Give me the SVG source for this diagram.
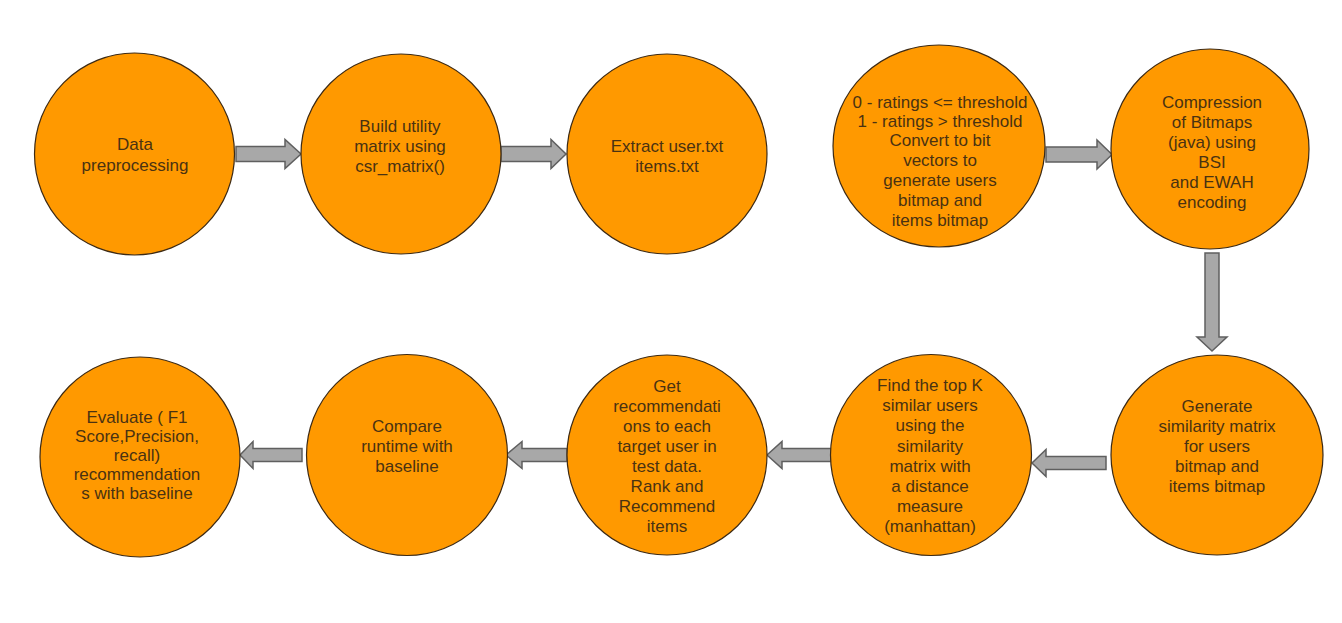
<svg xmlns="http://www.w3.org/2000/svg" width="1342" height="623" viewBox="0 0 1342 623">
<style>
.n{fill:#FF9900;stroke:#3d2a14;stroke-width:1.2}
.t{font-family:"Liberation Sans",Arial,sans-serif;font-size:17px;fill:#4a3212;text-anchor:middle}
.a{fill:#A8A8A8;stroke:#5f5f5f;stroke-width:1.5;stroke-linejoin:miter}
</style>
<rect width="1342" height="623" fill="#ffffff"/>
<g id="connectors">
<polygon class="a" points="236,146.5 285,146.5 285,139.5 301,154 285,168.5 285,161.5 236,161.5"/>
<polygon class="a" points="501,146.5 551,146.5 551,139.5 566,154 551,168.5 551,161.5 501,161.5"/>
<polygon class="a" points="1046,147 1097,147 1097,140 1112,154.5 1097,169 1097,162 1046,162"/>
<polygon class="a" points="1205,253 1219,253 1219,337 1227,337 1212,351 1197,337 1205,337"/>
<polygon class="a" points="1106,456.5 1046,456.5 1046,449.5 1032,463 1046,476.5 1046,469.5 1106,469.5"/>
<polygon class="a" points="831,448.5 782,448.5 782,441.5 767,455 782,468.5 782,461.5 831,461.5"/>
<polygon class="a" points="567,448.5 522,448.5 522,441.5 506,455 522,468.5 522,461.5 567,461.5"/>
<polygon class="a" points="302,448.5 253,448.5 253,441.5 240,455 253,468.5 253,461.5 302,461.5"/>
</g>
<g id="n1"><ellipse class="n" cx="134.5" cy="154" rx="100" ry="101"/>
<text class="t" x="135" y="150">Data</text><text class="t" x="135" y="171">preprocessing</text></g>
<g id="n2"><circle class="n" cx="401" cy="154" r="100"/>
<text class="t" x="400" y="132">Build utility</text><text class="t" x="400" y="152">matrix using</text><text class="t" x="400" y="172">csr_matrix()</text></g>
<g id="n3"><circle class="n" cx="667" cy="154" r="100"/>
<text class="t" x="667" y="152">Extract user.txt</text><text class="t" x="667" y="172">items.txt</text></g>
<g id="n4"><ellipse class="n" cx="939" cy="146" rx="106" ry="101"/>
<text class="t" x="940" y="108">0 - ratings &lt;= threshold</text>
<text class="t" x="940" y="127">1 - ratings &gt; threshold</text>
<text class="t" x="940" y="146">Convert to bit</text>
<text class="t" x="940" y="166">vectors to</text>
<text class="t" x="940" y="186">generate users</text>
<text class="t" x="940" y="206">bitmap and</text>
<text class="t" x="940" y="226">items bitmap</text></g>
<g id="n5"><ellipse class="n" cx="1210" cy="149" rx="99" ry="100"/>
<text class="t" x="1212" y="108">Compression</text>
<text class="t" x="1212" y="128">of Bitmaps</text>
<text class="t" x="1212" y="148">(java) using</text>
<text class="t" x="1212" y="168">BSI</text>
<text class="t" x="1212" y="188">and EWAH</text>
<text class="t" x="1212" y="208">encoding</text></g>
<g id="n6"><ellipse class="n" cx="1217" cy="455" rx="106" ry="100"/>
<text class="t" x="1217" y="412">Generate</text>
<text class="t" x="1217" y="432">similarity matrix</text>
<text class="t" x="1217" y="452">for users</text>
<text class="t" x="1217" y="472">bitmap and</text>
<text class="t" x="1217" y="492">items bitmap</text></g>
<g id="n7"><circle class="n" cx="931" cy="455" r="100.5"/>
<text class="t" x="930" y="391">Find the top K</text>
<text class="t" x="930" y="411">similar users</text>
<text class="t" x="930" y="431">using the</text>
<text class="t" x="930" y="452">similarity</text>
<text class="t" x="930" y="472">matrix with</text>
<text class="t" x="930" y="492"> a distance</text>
<text class="t" x="930" y="512">measure</text>
<text class="t" x="930" y="532">(manhattan)</text></g>
<g id="n8"><circle class="n" cx="667" cy="455" r="100"/>
<text class="t" x="667" y="392">Get</text>
<text class="t" x="667" y="412">recommendati</text>
<text class="t" x="667" y="432">ons to each</text>
<text class="t" x="667" y="452">target user in</text>
<text class="t" x="667" y="472">test data.</text>
<text class="t" x="667" y="492">Rank and</text>
<text class="t" x="667" y="512">Recommend</text>
<text class="t" x="667" y="532">items</text></g>
<g id="n9"><circle class="n" cx="407" cy="455" r="100.5"/>
<text class="t" x="407" y="432">Compare</text>
<text class="t" x="407" y="452">runtime with</text>
<text class="t" x="407" y="472">baseline</text></g>
<g id="n10"><circle class="n" cx="140" cy="457" r="100"/>
<text class="t" x="137" y="423">Evaluate ( F1</text>
<text class="t" x="137" y="442">Score,Precision,</text>
<text class="t" x="137" y="461">recall)</text>
<text class="t" x="137" y="480">recommendation</text>
<text class="t" x="137" y="499">s with baseline</text></g>
</svg>
